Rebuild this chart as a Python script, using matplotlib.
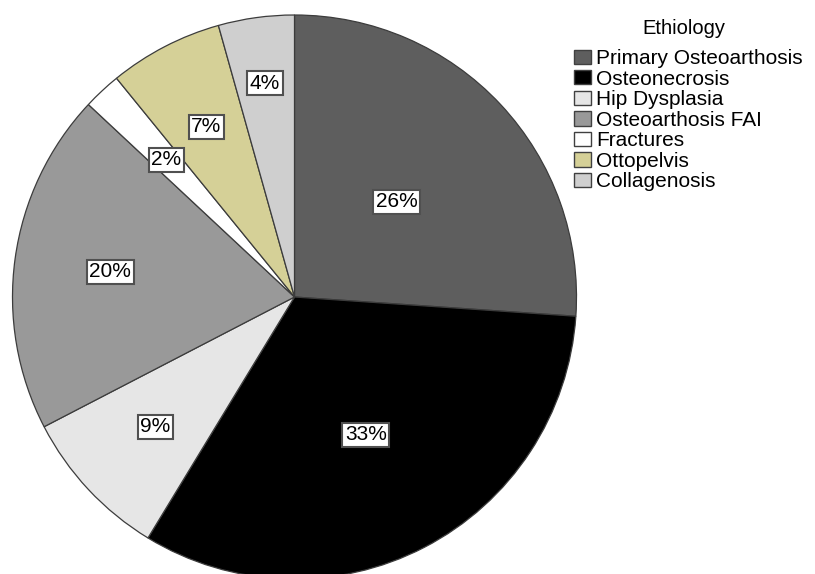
import numpy as np
import matplotlib
matplotlib.use("Agg")
import matplotlib.pyplot as plt

plt.rcParams['font.family'] = ['Liberation Sans', 'DejaVu Sans']

# ethiology groups (patient counts)
categories = ['Primary Osteoarthosis', 'Osteonecrosis', 'Hip Dysplasia',
              'Osteoarthosis FAI', 'Fractures', 'Ottopelvis', 'Collagenosis']
counts = [12, 15, 4, 9, 1, 3, 2]
colors = ['#5e5e5e', '#000000', '#e6e6e6', '#999999', '#ffffff',
          '#d5d097', '#cfcfcf']
# how far from the centre each percentage box sits (fraction of radius)
label_dist = [0.495, 0.55, 0.675, 0.66, 0.665, 0.68, 0.765]

total = sum(counts)
pct_labels = ['{:.0f}%'.format(100.0 * c / total) for c in counts]

fig = plt.figure(figsize=(8.15, 5.74), dpi=100)
W, H = 815, 574
# pie centre at (294.5, 297) px, radius 282 px
ax = fig.add_axes([12.5 / W, (H - 579) / H, 564 / W, 564 / H])

wedges, _ = ax.pie(counts, colors=colors, startangle=90, counterclock=False,
                   wedgeprops=dict(edgecolor='#3c3c3c', linewidth=0.9))
ax.set_xlim(-1, 1)
ax.set_ylim(-1, 1)
ax.set_aspect('equal')
ax.axis('off')
for w in wedges:
    w.set_clip_on(False)

for w, lab, d in zip(wedges, pct_labels, label_dist):
    ang = np.deg2rad((w.theta1 + w.theta2) / 2.0)
    ax.text(d * np.cos(ang), d * np.sin(ang), lab, ha='center', va='center',
            fontsize=15,
            bbox=dict(boxstyle='square,pad=0.12', facecolor='white',
                      edgecolor='#505050', linewidth=1.5))

# legend title drawn on its own, SPSS leaves a larger gap under it
fig.text(684 / W, 1 - 29 / H, 'Ethiology', ha='center', va='center',
         fontsize=14.5)
leg = fig.legend(wedges, categories, loc='upper left',
                 bbox_to_anchor=(574 / W, 1 - 49 / H), frameon=False,
                 fontsize=15, borderpad=0,
                 handlelength=0.82, handleheight=0.68, handletextpad=0.25,
                 labelspacing=0.075, borderaxespad=0)
for h in leg.legend_handles:
    h.set_edgecolor('#404040')
    h.set_linewidth(1.0)

fig.savefig('out.png', dpi=100)
